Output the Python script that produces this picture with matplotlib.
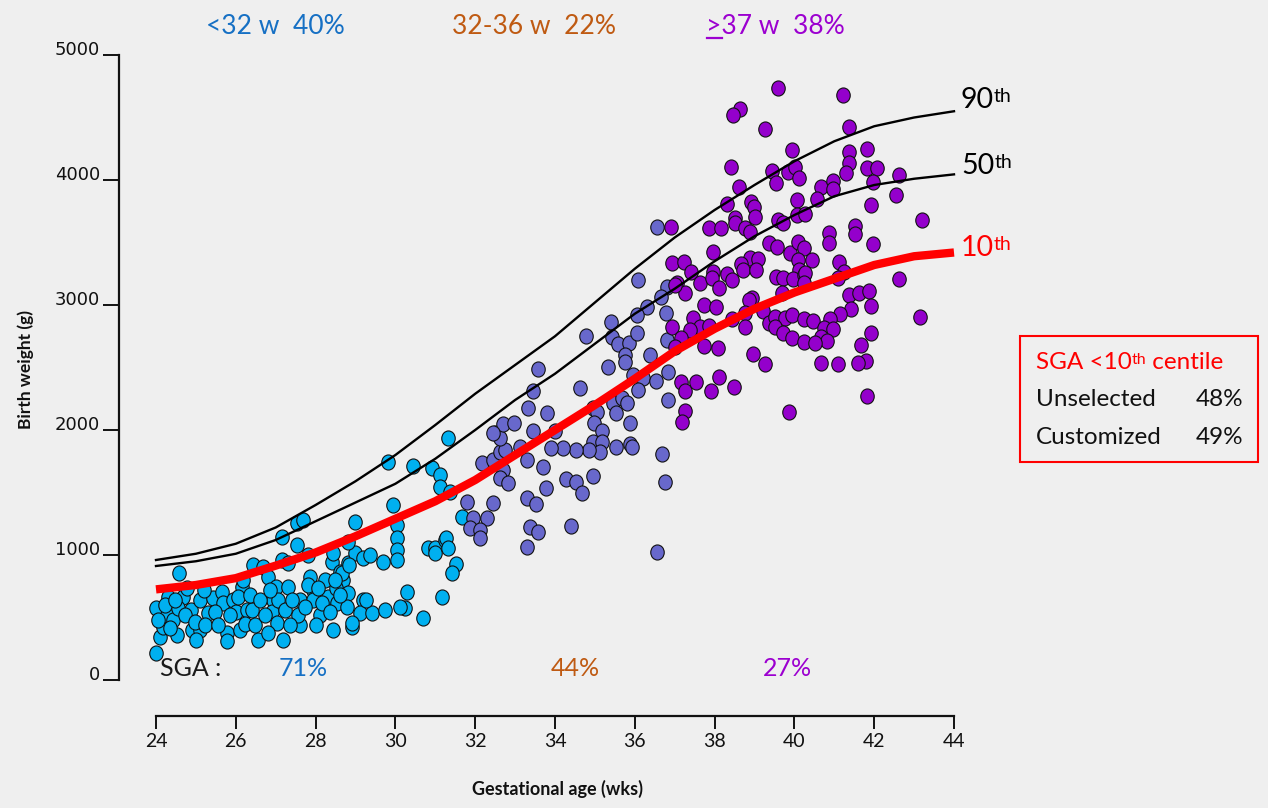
import matplotlib
matplotlib.use("Agg")
import matplotlib.pyplot as plt
from matplotlib.path import Path
from matplotlib.patches import Rectangle
from matplotlib.lines import Line2D

# ---------------- data ----------------
weeks = [24, 25, 26, 27, 28, 29, 30, 31, 32, 33, 34, 35, 36, 37, 38, 39, 40, 41, 42, 43, 44]
p90 = [960, 1010, 1090, 1220, 1400, 1590, 1800, 2040, 2290, 2520, 2750, 3020, 3290, 3540,
       3760, 3960, 4150, 4310, 4430, 4500, 4550]
p50 = [912, 950, 1010, 1120, 1270, 1420, 1570, 1770, 2000, 2240, 2450, 2690, 2930, 3130,
       3350, 3550, 3720, 3870, 3960, 4010, 4045]
p10 = [725, 760, 815, 915, 1020, 1150, 1290, 1430, 1600, 1800, 2000, 2200, 2410, 2630,
       2810, 2970, 3100, 3210, 3320, 3390, 3420]

# <32 weeks
ga_early = [24.00, 24.00, 24.10, 24.18, 24.30, 24.28, 24.53, 24.43, 24.58, 24.68, 24.55, 24.88,
            24.90, 25.10, 25.10, 25.30, 25.43, 25.65, 25.68, 25.78, 25.78, 25.93, 26.00, 26.11,
            26.16, 26.18, 26.28, 26.41, 26.56, 26.43, 26.68, 26.81, 26.93, 26.91, 27.03, 27.01,
            27.16, 27.16, 27.31, 27.31, 27.53, 27.53, 27.68, 27.61, 27.61, 27.56, 27.86, 27.81,
            27.93, 27.93, 28.11, 28.24, 28.31, 28.41, 28.44, 28.54, 28.61, 28.69, 28.81, 28.81,
            28.79, 28.91, 28.99, 28.99, 29.19, 29.36, 29.69, 29.19, 29.11, 29.41, 29.74, 30.04,
            30.04, 30.04, 30.04, 29.94, 30.29, 30.24, 30.12, 30.69, 30.82, 30.99, 30.99, 31.24,
            31.17, 29.81, 30.44, 30.92, 31.12, 31.12, 31.37, 31.32, 31.67, 31.27, 31.32, 31.52,
            31.42, 28.51, 28.66, 28.84, 28.49, 29.26, 28.91, 24.05, 24.23, 24.35, 24.48, 24.73,
            24.78, 24.98, 25.00, 25.20, 25.23, 25.48, 25.55, 25.85, 26.06, 26.23, 26.36, 26.48,
            26.61, 26.73, 26.81, 27.06, 27.23, 27.36, 27.41, 27.73, 27.81, 28.06, 28.16, 28.36,
            26.86, 28.61, 28.01, 27.18, 28.44, 28.82]
bw_early = [216, 576, 344, 424, 664, 520, 360, 480, 856, 664, 576, 560,
            400, 640, 400, 536, 656, 704, 616, 376, 312, 640, 544, 400,
            744, 800, 560, 560, 320, 920, 904, 824, 640, 544, 456, 744,
            1144, 960, 744, 936, 1080, 1256, 1280, 640, 440, 520, 824, 1000,
            720, 640, 520, 800, 664, 944, 400, 616, 864, 800, 936, 696,
            584, 424, 1264, 1016, 976, 1000, 944, 640, 536, 536, 560, 1240,
            1136, 1040, 960, 1400, 704, 576, 584, 496, 1056, 1056, 1016, 1120,
            664, 1744, 1712, 1696, 1640, 1544, 1504, 1936, 1304, 1136, 1056, 928,
            856, 736, 856, 920, 800, 640, 456, 480, 600, 416, 640, 520,
            736, 464, 320, 720, 440, 544, 440, 520, 664, 448, 680, 440,
            640, 520, 376, 640, 560, 440, 640, 584, 760, 736, 616, 544,
            720, 680, 440, 320, 1016, 1106]

# 32-36 weeks
ga_mid = [31.79, 31.95, 32.29, 32.45, 31.87, 32.12, 32.12, 33.29, 32.16, 32.45, 32.62, 32.75,
          32.70, 32.62, 32.83, 32.50, 32.62, 33.12, 33.29, 33.29, 33.37, 36.09, 36.80, 36.65,
          36.30, 36.05, 36.77, 35.40, 34.77, 35.42, 35.59, 35.86, 36.05, 36.80, 35.75, 35.75,
          36.38, 35.34, 33.58, 35.96, 36.84, 34.63, 33.46, 36.21, 36.09, 36.52, 35.46, 35.67,
          35.80, 35.53, 34.96, 35.05, 35.88, 33.32, 33.79, 32.69, 32.97, 32.45, 33.46, 34.00,
          34.98, 35.17, 34.96, 35.17, 35.13, 34.84, 34.53, 34.21, 33.89, 35.52, 35.88, 35.94,
          36.67, 33.69, 34.28, 34.53, 34.67, 34.96, 33.77, 33.52, 36.76, 33.58, 34.39, 36.55,
          36.84, 36.55]
bw_mid = [1426, 1294, 1294, 1414, 1214, 1200, 1134, 1066, 1734, 1760, 1826, 1840,
          1680, 1614, 1574, 1974, 1934, 1866, 1760, 1454, 1226, 3200, 3146, 3066,
          2986, 2920, 2934, 2866, 2754, 2746, 2688, 2694, 2778, 2720, 2600, 2546,
          2600, 2506, 2486, 2440, 2466, 2334, 2314, 2414, 2320, 2394, 2214, 2254,
          2214, 2134, 2174, 2146, 2054, 2178, 2134, 2048, 2058, 1978, 1994, 1994,
          2054, 1994, 1906, 1906, 1826, 1840, 1840, 1854, 1854, 1862, 1888, 1866,
          1808, 1702, 1606, 1582, 1498, 1632, 1534, 1406, 1586, 1186, 1232, 1026,
          2240, 3622]

# >=37 weeks
ga_term = [39.60, 38.64, 38.47, 39.26, 39.93, 38.41, 39.43, 39.54, 39.85, 40.01, 40.12, 38.62,
           38.32, 38.90, 38.98, 39.01, 40.06, 38.51, 38.51, 38.76, 38.88, 39.58, 39.71, 40.06,
           40.27, 36.90, 37.87, 38.15, 37.95, 39.37, 39.57, 39.89, 40.10, 40.23, 36.92, 37.23,
           37.40, 38.88, 39.09, 38.65, 38.70, 39.05, 40.10, 40.12, 37.97, 38.30, 38.43, 37.63,
           37.93, 37.06, 37.26, 39.55, 39.72, 39.97, 40.23, 38.12, 38.93, 38.85, 39.68, 37.73,
           38.03, 38.43, 38.76, 38.76, 39.22, 39.37, 39.51, 39.76, 39.95, 40.23, 37.45, 37.63,
           37.87, 37.38, 36.92, 37.17, 37.00, 37.73, 38.09, 39.51, 39.72, 39.95, 40.24, 38.95,
           39.26, 37.15, 37.26, 37.53, 37.90, 38.12, 38.49, 37.26, 37.18, 39.87, 41.23, 41.38,
           41.83, 41.38, 41.38, 41.29, 41.81, 42.08, 41.98, 42.63, 40.66, 40.96, 40.96, 40.57,
           42.55, 41.91, 43.21, 41.51, 41.51, 40.87, 40.87, 41.96, 40.43, 40.27, 40.25, 41.12,
           41.24, 41.10, 42.63, 41.38, 41.63, 41.88, 41.91, 41.43, 41.14, 40.88, 40.46, 40.73,
           40.96, 40.66, 40.81, 40.52, 43.16, 41.91, 41.66, 41.79, 41.60, 40.66, 41.10, 41.83,
           37.02]
bw_term = [4734, 4566, 4520, 4406, 4240, 4106, 4072, 3978, 4066, 4106, 4014, 3942,
           3808, 3826, 3786, 3706, 3840, 3694, 3654, 3614, 3586, 3680, 3658, 3720,
           3728, 3622, 3614, 3614, 3426, 3494, 3466, 3418, 3506, 3454, 3338, 3346,
           3266, 3374, 3366, 3328, 3280, 3280, 3360, 3280, 3266, 3248, 3200, 3174,
           3214, 3174, 3098, 3226, 3214, 3206, 3240, 3134, 3054, 3040, 3098, 3000,
           2986, 2886, 2938, 2826, 2954, 2858, 2906, 2894, 2920, 2886, 2894, 2826,
           2832, 2800, 2822, 2734, 2666, 2672, 2654, 2826, 2774, 2734, 2706, 2608,
           2528, 2386, 2314, 2386, 2314, 2422, 2342, 2154, 2066, 2146, 4680, 4422,
           4246, 4226, 4134, 4058, 4094, 4094, 3986, 4040, 3946, 3994, 3926, 3846,
           3880, 3800, 3680, 3632, 3568, 3578, 3498, 3488, 3360, 3258, 3178, 3346,
           3266, 3214, 3208, 3080, 3094, 3114, 2992, 2966, 2928, 2886, 2874, 2814,
           2806, 2746, 2714, 2694, 2906, 2778, 2680, 2554, 2538, 2534, 2528, 2272,
           3160]

group_titles = ["<32 w  40%", "32-36 w  22%", ">37 w  38%"]
sga_values = ["71%", "44%", "27%"]
centile_names = ["90", "50", "10"]
sga_overall = [("Unselected", "48%"), ("Customized", "49%")]

# ---------------- styling ----------------
BLUE_TXT = "#1670c4"
BROWN_TXT = "#bf5a12"
PURPLE_TXT = "#9c00d0"
C_EARLY = "#00b0f0"
C_MID = "#6868cc"
C_TERM = "#9400cc"
BG = "#efefef"

W, H = 1268, 808
fig = plt.figure(figsize=(W / 100, H / 100), dpi=100, facecolor=BG)


def fx(px):
    return px / W


def fy(py):
    return 1 - py / H


PX_PER_WK = 39.9
G_PER_PX = 8.0
ax = fig.add_axes([fx(119), fy(716), (954 - 119) / W, (716 - 55) / H])
ax.set_facecolor("none")
ax.set_xlim(24 - (156 - 119) / PX_PER_WK, 44)
ax.set_ylim(-(716 - 680) * G_PER_PX, 5000)

for side in ("top", "right"):
    ax.spines[side].set_visible(False)
ax.spines["left"].set_bounds(0, 5000)
ax.spines["bottom"].set_bounds(24, 44)
for side in ("left", "bottom"):
    ax.spines[side].set_linewidth(1.6)
    ax.spines[side].set_color("#111111")

ax.set_yticks(range(0, 5001, 1000))
ax.set_xticks(range(24, 45, 2))
ax.tick_params(axis="y", direction="out", length=11.5, width=1.4, pad=2,
               labelsize=13, labelfontfamily="DejaVu Sans", colors="#111111")
ax.tick_params(axis="x", direction="out", length=9.5, width=1.4, pad=3,
               labelsize=14, labelfontfamily="Lato", colors="#111111")
for lab in ax.get_yticklabels():
    lab.set_verticalalignment("baseline")

# ellipse marker (slightly taller than wide)
circ = Path.unit_circle()
ell = Path(circ.vertices * [1.0, 1.12], circ.codes)

common = dict(marker=ell, s=118, edgecolors="#111111", linewidths=0.8, zorder=3, clip_on=False)
ax.scatter(ga_early, bw_early, c=C_EARLY, **common)
ax.scatter(ga_mid, bw_mid, c=C_MID, **common)
ax.scatter(ga_term, bw_term, c=C_TERM, **common)

ax.plot(weeks, p90, color="black", lw=1.7, zorder=4, clip_on=False)
ax.plot(weeks, p50, color="black", lw=1.7, zorder=4, clip_on=False)
ax.plot(weeks, p10, color="#ff0000", lw=6, zorder=5, clip_on=False, solid_capstyle="butt")

FONT = "Lato"

# group headings
fig.text(fx(275), fy(26), group_titles[0], color=BLUE_TXT, fontsize=19, family=FONT,
         ha="center", va="center")
fig.text(fx(534), fy(26), group_titles[1], color=BROWN_TXT, fontsize=19, family=FONT,
         ha="center", va="center")
fig.text(fx(706), fy(26), group_titles[2], color=PURPLE_TXT, fontsize=19, family=FONT,
         ha="left", va="center")
fig.add_artist(Line2D([fx(707), fx(722)], [fy(38), fy(38)], color=PURPLE_TXT, lw=1.6))

# SGA rates per group
fig.text(fx(160), fy(668), "SGA :", color="#1a1a1a", fontsize=18, family=FONT,
         ha="left", va="center")
for xc, txt, col in zip([303, 575, 787], sga_values, [BLUE_TXT, BROWN_TXT, PURPLE_TXT]):
    fig.text(fx(xc), fy(668), txt, color=col, fontsize=18, family=FONT,
             ha="center", va="center")


def with_sup(x, y, base, sup, color, size, sup_size):
    t = fig.text(x, y, base, color=color, fontsize=size, family=FONT, ha="left", va="baseline")
    a = ax.annotate(sup, xy=(1.0, 0.97), xycoords=t, color=color, fontsize=sup_size,
                    family=FONT, ha="left", va="top", annotation_clip=False)
    return t, a


# centile labels
with_sup(fx(961), fy(108), centile_names[0], "th", "black", 20.5, 14)
with_sup(fx(961), fy(174), centile_names[1], "th", "black", 20.5, 14)
with_sup(fx(961), fy(256), centile_names[2], "th", "#ff0000", 20.5, 14)

# SGA summary box
fig.add_artist(Rectangle((fx(1020), fy(462)), (1258 - 1020) / W, (462 - 336) / H,
                         transform=fig.transFigure, fill=False, edgecolor="#ff0000", lw=1.5))
t1, t2 = with_sup(fx(1036), fy(373), "SGA <10", "th", "#ff0000", 17.5, 11.5)
t1.set_va("bottom")
ax.annotate(" centile", xy=(1.0, 0.0), xycoords=(t2, t1), color="#ff0000", fontsize=17.5,
            family=FONT, ha="left", va="bottom", annotation_clip=False)
for yc, (name, pct) in zip([400, 437], sga_overall):
    fig.text(fx(1036), fy(yc), name, color="#111111", fontsize=17.5, family=FONT,
             ha="left", va="center")
    fig.text(fx(1243), fy(yc), pct, color="#111111", fontsize=17.5, family=FONT,
             ha="right", va="center")

# axis titles
fig.text(fx(26), fy(370), "Birth weight (g)", rotation=90, fontweight="bold", fontsize=12.5,
         family=FONT, ha="center", va="center", color="#111111")
fig.text(fx(558), fy(789), "Gestational age (wks)", fontweight="bold", fontsize=13,
         family=FONT, ha="center", va="center", color="#111111")

fig.savefig("out.png", dpi=100, facecolor=BG)
